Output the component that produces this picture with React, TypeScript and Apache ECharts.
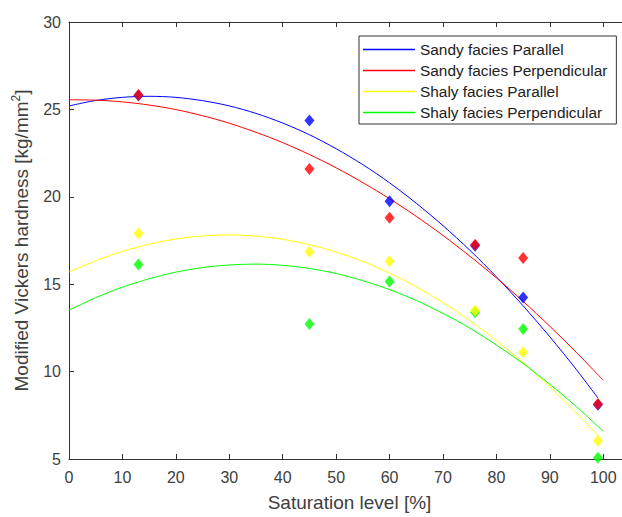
import React, { useEffect, useRef } from "react";
import * as echarts from "echarts";

// Measured x positions of the specimens (saturation level, %)
const pointX = [13, 45, 60, 76, 85, 99];

// Measured hardness values (diamonds)
const sandyParallelPts = [25.8, 24.36, 19.74, 17.2, 14.24, 8.1];
const sandyPerpPts = [25.83, 21.59, 18.8, 17.25, 16.5, 8.15];
const shalyParallelPts = [17.9, 16.86, 16.31, 13.5, 11.1, 6.04];
const shalyPerpPts = [16.12, 12.73, 15.16, 13.4, 12.43, 5.07];

// Trend curves (every 5 % of saturation)
const curveX = [0, 5, 10, 15, 20, 25, 30, 35, 40, 45, 50, 55, 60, 65, 70, 75, 80, 85, 90, 95, 100];
const sandyParallelCurveY = [
  25.2, 25.51, 25.69, 25.75, 25.69, 25.5, 25.2, 24.77, 24.22, 23.55, 22.75,
  21.84, 20.8, 19.63, 18.35, 16.95, 15.42, 13.76, 11.99, 10.1, 8.49,
];
const sandyPerpCurveY = [
  25.55, 25.53, 25.43, 25.25, 24.99, 24.64, 24.21, 23.69, 23.1, 22.42, 21.66,
  20.81, 19.89, 18.88, 17.79, 16.61, 15.36, 14.02, 12.59, 11.09, 9.5,
];
const shalyParallelCurveY = [
  15.69, 16.34, 16.88, 17.29, 17.59, 17.76, 17.82, 17.75, 17.57, 17.26, 16.84,
  16.3, 15.63, 14.85, 13.94, 12.92, 11.77, 10.51, 9.13, 7.63, 6.34,
];
const shalyPerpCurveY = [
  13.52, 14.23, 14.83, 15.31, 15.69, 15.95, 16.1, 16.15, 16.08, 15.9, 15.61,
  15.2, 14.69, 14.07, 13.33, 12.49, 11.52, 10.46, 9.27, 7.99, 6.58,
];
// the blue and yellow fits stop at x = 99
const curveEndX = [99, 100, 99, 100];

const seriesNames = [
  "Sandy facies Parallel",
  "Sandy facies Perpendicular",
  "Shaly facies Parallel",
  "Shaly facies Perpendicular",
];
const seriesColors = ["#0000ff", "#ff0000", "#ffff00", "#00ff00"];

const xTicks = [0, 10, 20, 30, 40, 50, 60, 70, 80, 90, 100];

const FONT = "'Liberation Sans', Arial, Helvetica, sans-serif";
const AXIS_COLOR = "#333333";
const TEXT_COLOR = "#404040";

export default function App() {
  const ref = useRef<HTMLDivElement>(null);

  useEffect(() => {
    if (!ref.current) return;
    const chart = echarts.init(ref.current, null, { renderer: "svg" });

    const curvesY = [sandyParallelCurveY, sandyPerpCurveY, shalyParallelCurveY, shalyPerpCurveY];
    const pts = [sandyParallelPts, sandyPerpPts, shalyParallelPts, shalyPerpPts];

    const lineSeries = curvesY.map((ys, i) => ({
      name: seriesNames[i],
      type: "line",
      data: ys.map((y, j) => [j === curveX.length - 1 ? curveEndX[i] : curveX[j], y]),
      smooth: 0.3,
      symbol: "none",
      showSymbol: false,
      lineStyle: { color: seriesColors[i], width: 1 },
      itemStyle: { color: seriesColors[i] },
      z: 2,
      silent: true,
    }));

    // scatter order: blue, red, green, yellow (yellow over green, red over blue)
    const scatterOrder = [0, 1, 3, 2];
    const scatterSeries = scatterOrder.map((i, k) => ({
      name: seriesNames[i] + " data",
      type: "scatter",
      data: pointX.map((x, j) => [x, pts[i][j]]),
      symbol: "diamond",
      symbolSize: [10, 12],
      itemStyle: { color: seriesColors[i] },
      z: 3 + k,
      silent: true,
    }));

    const axisLineStyle = { color: AXIS_COLOR, width: 1 };

    chart.setOption({
      animation: false,
      backgroundColor: "#ffffff",
      textStyle: { fontFamily: FONT },
      grid: { left: 69, top: 22, right: 0, bottom: 53, containLabel: false },
      legend: {
        data: seriesNames,
        orient: "vertical",
        left: 359,
        top: 36,
        padding: [6, 9, 4, 4],
        icon: "rect",
        itemWidth: 52,
        itemHeight: 1.5,
        itemGap: 6,
        borderColor: "#333333",
        borderWidth: 1,
        backgroundColor: "#ffffff",
        selectedMode: false,
        textStyle: { fontSize: 15.4, color: "#222222", fontFamily: FONT, lineHeight: 15 },
      },
      xAxis: [
        {
          type: "value",
          position: "bottom",
          min: 0,
          max: 105,
          name: "Saturation level [%]",
          nameLocation: "middle",
          nameGap: 34,
          nameTextStyle: { fontSize: 19, color: TEXT_COLOR, fontFamily: FONT },
          axisLine: { show: true, onZero: false, lineStyle: axisLineStyle },
          axisTick: { show: true, inside: true, length: 5, customValues: xTicks, lineStyle: axisLineStyle },
          axisLabel: { customValues: xTicks, fontSize: 16, color: TEXT_COLOR, margin: 10, fontFamily: FONT },
          splitLine: { show: false },
        },
        {
          type: "value",
          position: "top",
          min: 0,
          max: 105,
          axisLine: { show: true, onZero: false, lineStyle: axisLineStyle },
          axisTick: { show: true, inside: true, length: 5, customValues: xTicks, lineStyle: axisLineStyle },
          axisLabel: { show: false },
          splitLine: { show: false },
        },
      ],
      yAxis: {
        type: "value",
        min: 5,
        max: 30,
        interval: 5,
        name: "Modified Vickers hardness [kg/mm{sup|2}]",
        nameLocation: "middle",
        nameGap: 33,
        nameTextStyle: {
          fontSize: 19,
          color: TEXT_COLOR,
          fontFamily: FONT,
          lineHeight: 22,
          rich: {
            sup: { fontSize: 12, color: TEXT_COLOR, fontFamily: FONT, verticalAlign: "top", lineHeight: 12 },
          },
        },
        axisLine: { show: true, onZero: false, lineStyle: axisLineStyle },
        axisTick: { show: true, inside: true, length: 5, lineStyle: axisLineStyle },
        axisLabel: { fontSize: 16, color: TEXT_COLOR, margin: 8, fontFamily: FONT },
        splitLine: { show: false },
      },
      series: [...lineSeries, ...scatterSeries],
    });

    return () => chart.dispose();
  }, []);

  return (
    <div
      style={{
        position: "fixed",
        left: 0,
        top: 0,
        width: 622,
        height: 517,
        overflow: "hidden",
        background: "#ffffff",
      }}
    >
      <div ref={ref} style={{ width: 630, height: 517 }} />
    </div>
  );
}
